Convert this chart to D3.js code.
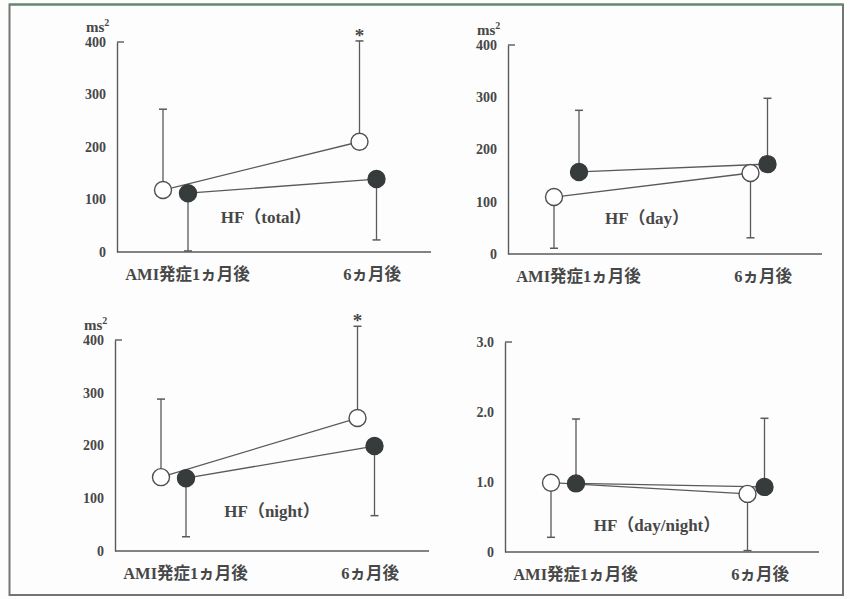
<!DOCTYPE html>
<html>
<head>
<meta charset="utf-8">
<script src="https://cdn.jsdelivr.net/npm/d3@7"></script>
<style>
  html, body { margin: 0; padding: 0; background: #fdfdfd; }
  svg { display: block; }
  svg text { font-family: "Liberation Serif", "Times New Roman", Tinos, "DejaVu Serif", "Noto Sans CJK JP", serif !important; font-weight: bold; fill: #474747; }
</style>
</head>
<body>
<svg id="chart" width="850" height="599"></svg>
<script>
// ---------------- DATA ----------------
const categories = ["AMI発症1ヵ月後", "6ヵ月後"];

const msTicks = [0, 100, 200, 300, 400];
const msTickLabels = ["0", "100", "200", "300", "400"];
const ratioTicks = [0, 1, 2, 3];
const ratioTickLabels = ["0", "1.0", "2.0", "3.0"];

const titles = ["HF（total）", "HF（day）", "HF（night）", "HF（day/night）"];
const unitLabels = ["ms", "ms", "ms", ""];

// open circles (mean) and end of their error bar
const totalOpen = [118, 210];     const totalOpenErr = [272, 402];
const totalFilled = [112, 139];   const totalFilledErr = [2, 23];

const dayOpen = [109, 155];       const dayOpenErr = [11, 31];
const dayFilled = [157, 172];     const dayFilledErr = [275, 298];

const nightOpen = [140, 252];     const nightOpenErr = [288, 426];
const nightFilled = [138, 199];   const nightFilledErr = [27, 67];

const ratioOpen = [0.99, 0.83];   const ratioOpenErr = [0.21, 0.02];
const ratioFilled = [0.98, 0.93]; const ratioFilledErr = [1.90, 1.91];

// significance marks on the open-circle series (per category)
const totalSig = [false, true];
const daySig = [false, false];
const nightSig = [false, true];
const ratioSig = [false, false];

// ---------------- LAYOUT ----------------
const panels = [
  { ox: 117, y0: 252, yTop: 42,  ticks: msTicks, labels: msTickLabels, max: 400,
    open: totalOpen, openErr: totalOpenErr, filled: totalFilled, filledErr: totalFilledErr, sig: totalSig,
    title: titles[0], unit: unitLabels[0], tdx: 149, tdy: -29 },
  { ox: 508, y0: 254, yTop: 45,  ticks: msTicks, labels: msTickLabels, max: 400,
    open: dayOpen, openErr: dayOpenErr, filled: dayFilled, filledErr: dayFilledErr, sig: daySig,
    title: titles[1], unit: unitLabels[1], tdx: 139, tdy: -30 },
  { ox: 115, y0: 551, yTop: 340, ticks: msTicks, labels: msTickLabels, max: 400,
    open: nightOpen, openErr: nightOpenErr, filled: nightFilled, filledErr: nightFilledErr, sig: nightSig,
    title: titles[2], unit: unitLabels[2], tdx: 157, tdy: -34 },
  { ox: 505, y0: 552, yTop: 342, ticks: ratioTicks, labels: ratioTickLabels, max: 3,
    open: ratioOpen, openErr: ratioOpenErr, filled: ratioFilled, filledErr: ratioFilledErr, sig: ratioSig,
    title: titles[3], unit: unitLabels[3], tdx: 152, tdy: -21 }
];

const axisLen = 314;
const dodge = [12.5, 8.5];
const labelShift = [12, 4];
const R = 8.5;
const capW = 8;
const lineColor = "#5a5a5a";
const dotColor = "#363b3b";
const FONT = '"Liberation Serif", "Times New Roman", Tinos, "DejaVu Serif", "Noto Sans CJK JP", serif';

const svg = d3.select("#chart");

// frame
svg.append("rect").attr("x", 9.5).attr("y", 4.5).attr("width", 833.5).attr("height", 590.5)
  .attr("fill", "none").attr("stroke", "#747474").attr("stroke-width", 2);
svg.append("line").attr("x1", 9).attr("x2", 843).attr("y1", 4.5).attr("y2", 4.5)
  .attr("stroke", "#5f8a6b").attr("stroke-width", 2);

panels.forEach(p => {
  const g = svg.append("g").attr("font-family", FONT);
  const y = d3.scaleLinear().domain([0, p.max]).range([p.y0, p.yTop]);
  const x = d3.scalePoint().domain(categories).range([p.ox + 58.5, p.ox + 251]);

  // y axis
  const yAxis = d3.axisLeft(y).tickValues(p.ticks).tickSize(0).tickSizeOuter(0).tickPadding(11)
    .tickFormat((d, i) => p.labels[i]);
  const ya = g.append("g").attr("transform", `translate(${p.ox},0)`).call(yAxis);
  ya.attr("font-family", FONT);
  ya.select(".domain").attr("stroke", lineColor).attr("stroke-width", 1.4);
  ya.selectAll("text").attr("font-size", 14).attr("fill", "#474747");
  // top tick pointing inward
  g.append("line").attr("x1", p.ox).attr("x2", p.ox + 7).attr("y1", y(p.max)).attr("y2", y(p.max))
    .attr("stroke", lineColor).attr("stroke-width", 1.4);

  // x axis
  g.append("line").attr("x1", p.ox).attr("x2", p.ox + axisLen).attr("y1", p.y0).attr("y2", p.y0)
    .attr("stroke", lineColor).attr("stroke-width", 1.4);
  g.selectAll(".xlab").data(categories).enter().append("text")
    .attr("x", (c, i) => x(c) + labelShift[i]).attr("y", p.y0 + 28)
    .attr("text-anchor", "middle").attr("font-size", 16.5).text(c => c);

  // unit
  if (p.unit) {
    const t = g.append("text").attr("x", p.ox - 31).attr("y", y(p.max) - 10).attr("font-size", 15);
    t.append("tspan").text(p.unit);
    t.append("tspan").attr("font-size", 10).attr("dy", -6).text("2");
  }

  // title
  g.append("text").attr("x", p.ox + p.tdx).attr("y", p.y0 + p.tdy)
    .attr("text-anchor", "middle").attr("font-size", 17).text(p.title);

  const series = [
    { vals: p.open, err: p.openErr, dx: -1, filled: false },
    { vals: p.filled, err: p.filledErr, dx: 1, filled: true }
  ];
  const pos = (s, i) => x(categories[i]) + s.dx * dodge[i];

  // connecting lines
  series.forEach(s => {
    const line = d3.line().x((v, i) => pos(s, i)).y(v => y(v));
    g.append("path").datum(s.vals).attr("d", line).attr("fill", "none")
      .attr("stroke", lineColor).attr("stroke-width", 1.3);
  });

  // error bars
  series.forEach(s => {
    s.vals.forEach((v, i) => {
      const cx = pos(s, i);
      g.append("line").attr("x1", cx).attr("x2", cx).attr("y1", y(v)).attr("y2", y(s.err[i]))
        .attr("stroke", lineColor).attr("stroke-width", 1.3);
      g.append("line").attr("x1", cx - capW / 2).attr("x2", cx + capW / 2)
        .attr("y1", y(s.err[i])).attr("y2", y(s.err[i]))
        .attr("stroke", lineColor).attr("stroke-width", 1.5);
    });
  });

  // circles
  series.forEach(s => {
    g.selectAll(null).data(s.vals).enter().append("circle")
      .attr("cx", (v, i) => pos(s, i)).attr("cy", v => y(v)).attr("r", R)
      .attr("fill", s.filled ? dotColor : "#ffffff")
      .attr("stroke", s.filled ? dotColor : "#4f4f4f").attr("stroke-width", 1.4);
  });

  // significance
  p.sig.forEach((sg, i) => {
    if (!sg) return;
    const cx = pos(series[0], i);
    g.append("text").attr("x", cx).attr("y", y(p.openErr[i]) + 1)
      .attr("text-anchor", "middle").attr("font-size", 19).text("*");
  });
});
</script>
</body>
</html>
